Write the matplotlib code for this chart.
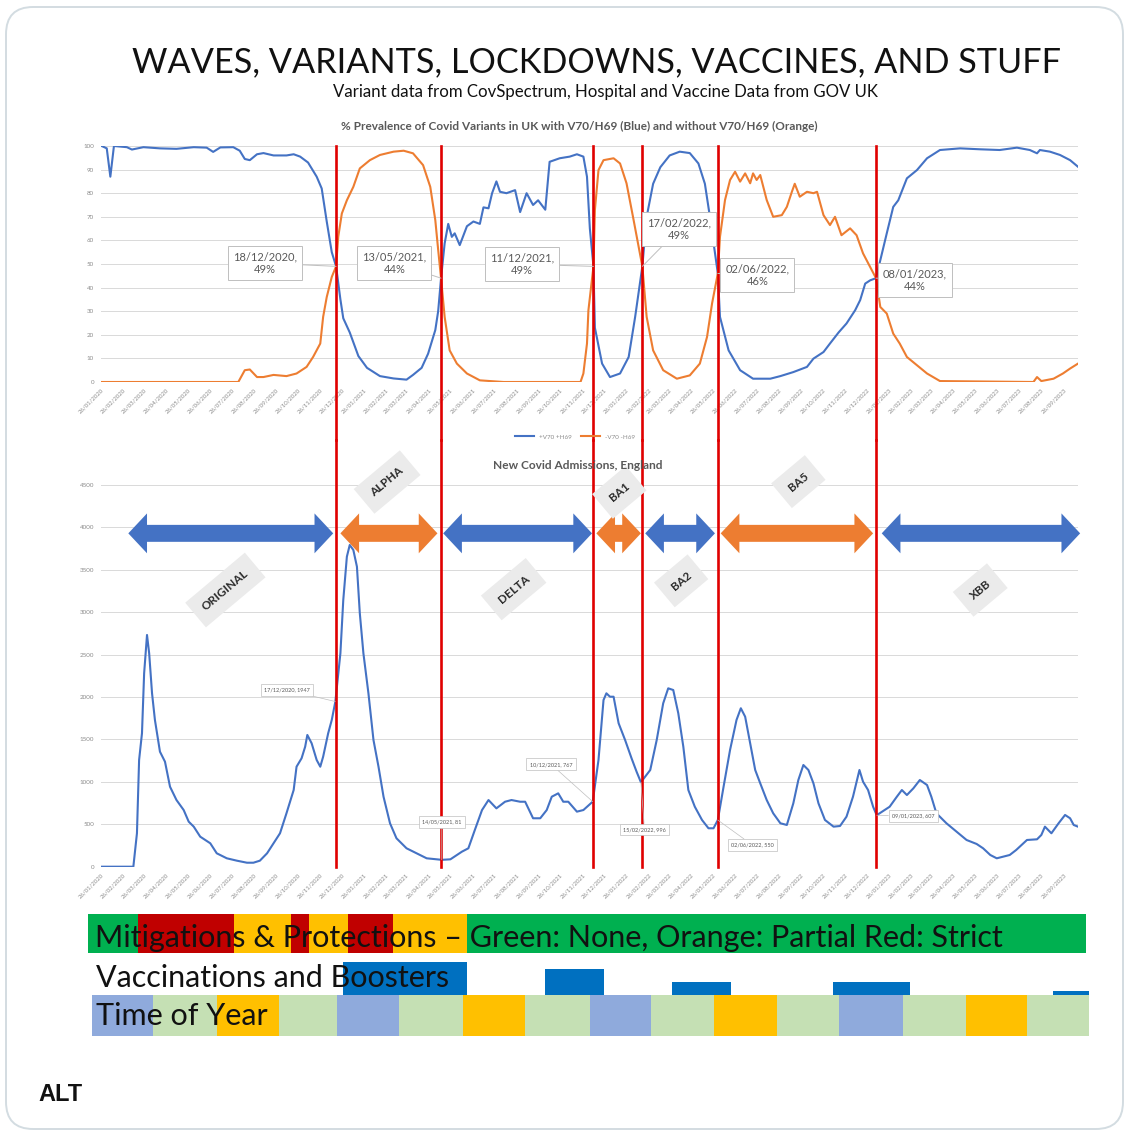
import matplotlib
matplotlib.use("Agg")
import matplotlib.pyplot as plt
import matplotlib.dates as mdates
from matplotlib.patches import FancyBboxPatch, Polygon
import pandas as pd

W, H = 1130, 1134
START = pd.Timestamp("2020-01-26")
END_DAY = 1359

BLUE, ORANGE, RED = "#4472c4", "#ed7d31", "#e00000"
GRID, TICK, TITLE_GRAY = "#d9d9d9", "#8c8c8c", "#595959"
plt.rcParams["font.family"] = ["Lato", "DejaVu Sans"]

# ---------------------------------------------------------------- data
# % prevalence (days since 26/01/2020)
blue_day = [0, 1, 8, 13, 18, 36, 43, 59, 82, 105, 129, 147, 156, 166, 184, 193, 200, 207,
            217, 226, 240, 258, 268, 277, 288, 300, 307, 314, 321, 327, 333, 337, 346, 358,
            370, 388, 407, 425, 434, 446, 455, 465, 469, 473, 478, 483, 488, 492, 499, 509,
            518, 527, 532, 539, 544, 550, 555, 564, 576, 583, 592, 601, 608, 618, 624, 638,
            652, 662, 671, 676, 680, 685, 687, 697, 708, 722, 734, 743, 753, 759, 768, 778,
            791, 805, 819, 831, 840, 847, 858, 861, 873, 889, 907, 931, 945, 963, 982, 991,
            1005, 1014, 1026, 1037, 1049, 1056, 1063, 1070, 1078, 1084, 1093, 1102, 1109,
            1121, 1135, 1149, 1167, 1195, 1223, 1250, 1274, 1292, 1302, 1306, 1320, 1334,
            1348, 1359]
blue_pct = [100, 100, 99, 87, 100, 99.5, 98.5, 99.5, 99, 98.8, 99.5, 99.3, 97.5, 99.4, 99.5,
            98, 94.5, 94, 96.5, 97, 96, 96, 96.5, 95.5, 93, 87, 82, 68, 55, 49, 35, 27, 21,
            11, 6, 2.5, 1.5, 1, 3, 6, 12, 22, 30, 44, 58.7, 67, 61.5, 63, 58, 66, 68, 67, 74,
            73.6, 80, 85, 80.6, 80, 81.3, 72, 80, 75, 77, 73, 93.3, 94.8, 95.5, 96.5, 95.5, 87,
            65, 49, 23, 7.8, 2.1, 3.6, 10.6, 27.6, 49, 70, 84, 91, 96, 97.6, 97, 92.6, 84, 70,
            46, 27.6, 13.4, 5, 1.4, 1.4, 2.5, 4.2, 6.4, 9.9, 12.7, 16.3, 21, 24.8, 30.4, 34.7,
            41.7, 43.1, 44, 51.6, 63, 74.2, 77, 86.3, 89.8, 94.8, 98.3, 99, 98.6, 98.3, 99.3,
            98.3, 96.9, 98.3, 97.6, 96.2, 94, 91.2]
orange_day = [0, 191, 200, 207, 217, 226, 240, 258, 272, 286, 295, 305, 309, 314, 321, 327,
              330, 335, 342, 351, 360, 374, 388, 407, 421, 434, 448, 458, 465, 469, 473, 478,
              485, 495, 509, 527, 560, 667, 671, 676, 678, 685, 687, 692, 699, 713, 722, 731,
              740, 753, 759, 768, 782, 801, 819, 833, 843, 850, 858, 861, 868, 875, 882, 889,
              896, 903, 907, 912, 917, 926, 935, 947, 954, 961, 965, 972, 982, 991, 996, 1005,
              1014, 1021, 1030, 1042, 1051, 1060, 1078, 1084, 1093, 1102, 1111, 1121, 1135,
              1149, 1167, 1297, 1302, 1308, 1325, 1338, 1348, 1359]
orange_pct = [0, 0, 5, 5.3, 2.1, 2.1, 3, 2.5, 3.6, 6.4, 10.6, 16.3, 27.6, 36, 44.5, 49, 61.5,
              71.4, 77, 82.7, 90.5, 94, 96.2, 97.6, 98, 96.9, 91.9, 82.7, 68.6, 56, 44, 27.6,
              13.4, 7.8, 3.6, 0.7, 0, 0, 3.6, 16.3, 30.4, 49, 72.9, 89.8, 94, 94.8, 92.6, 84.2,
              70, 49, 27.6, 13.4, 5, 1.4, 2.8, 7.8, 19.1, 33.3, 46, 61.5, 77.1, 85.6, 89.1, 84.9,
              88.4, 84.2, 88.4, 85.6, 87.7, 77.1, 70, 70.7, 74.2, 80.6, 84, 78.5, 80.6, 80, 80.6,
              70.7, 66.5, 70, 62.2, 65.1, 62.2, 54.5, 44, 31.8, 29, 20.5, 16.3, 10.6, 7.1, 3.6,
              0.4, 0, 2.1, 0.4, 1.4, 3.6, 5.7, 7.8]

# new covid admissions, England (days since 26/01/2020)
adm_day = [0, 45, 47, 50, 53, 57, 60, 64, 67, 71, 75, 82, 89, 96, 105, 115, 122, 129, 138, 152,
           161, 175, 189, 203, 212, 221, 231, 240, 249, 258, 268, 272, 279, 284, 287, 293, 300,
           305, 309, 316, 321, 326, 333, 337, 342, 346, 351, 356, 360, 365, 372, 379, 386, 393,
           402, 411, 425, 439, 453, 467, 474, 486, 495, 502, 511, 520, 530, 539, 550, 562, 571,
           583, 590, 601, 611, 620, 627, 636, 643, 650, 662, 671, 684, 692, 699, 703, 708, 713,
           720, 729, 738, 745, 751, 764, 773, 782, 789, 796, 803, 810, 817, 826, 836, 845, 852,
           858, 866, 875, 884, 890, 896, 903, 910, 917, 926, 935, 945, 954, 963, 970, 977, 984,
           991, 998, 1007, 1019, 1028, 1037, 1046, 1055, 1060, 1067, 1074, 1079, 1097, 1107,
           1114, 1121, 1130, 1139, 1149, 1155, 1162, 1176, 1190, 1204, 1218, 1227, 1237, 1246,
           1255, 1264, 1273, 1288, 1302, 1308, 1313, 1322, 1332, 1341, 1348, 1353, 1359]
adm_val = [0, 0, 158, 394, 1258, 1573, 2280, 2732, 2516, 2044, 1730, 1356, 1238, 943, 786, 668,
           531, 472, 354, 276, 158, 99, 71, 47, 47, 71, 158, 276, 394, 630, 904, 1179, 1278,
           1415, 1553, 1455, 1258, 1179, 1297, 1573, 1730, 1947, 2516, 3144, 3655, 3793, 3734,
           3537, 2988, 2516, 2044, 1494, 1179, 825, 512, 335, 217, 158, 99, 87, 81, 87, 138, 177,
           217, 433, 668, 786, 688, 766, 786, 766, 766, 571, 571, 668, 825, 865, 766, 766, 649,
           668, 767, 1258, 1965, 2044, 2004, 2004, 1691, 1494, 1278, 1120, 996, 1140, 1494, 1926,
           2103, 2083, 1809, 1415, 904, 707, 551, 453, 453, 550, 943, 1376, 1730, 1868, 1769,
           1455, 1140, 983, 786, 630, 512, 492, 747, 1022, 1199, 1140, 983, 747, 551, 472, 480,
           590, 825, 1140, 1002, 904, 707, 607, 707, 825, 904, 845, 924, 1022, 963, 825, 630,
           512, 413, 315, 268, 217, 138, 99, 118, 138, 197, 315, 323, 374, 472, 394, 512, 610,
           571, 492, 472]

# variant changeovers (red lines) and top-chart crossing labels
change_dates = ["2020-12-18", "2021-05-13", "2021-12-11", "2022-02-17", "2022-06-02", "2023-01-08"]
change_pct = [49, 44, 49, 49, 46, 44]
label_dates = ["2020-09-10", "2021-03-09", "2021-09-03", "2022-04-09", "2022-07-27", "2023-03-03"]
label_pct = [50.4, 50.4, 49.9, 64.8, 45.3, 43.2]

# admissions call-outs
adm_note_dates = ["2020-12-17", "2021-05-14", "2021-12-10", "2022-02-15", "2022-06-02", "2023-01-09"]
adm_note_vals = [1947, 81, 767, 996, 550, 607]
adm_box_dates = ["2020-10-11", "2021-05-14", "2021-10-13", "2022-02-20", "2022-07-20", "2023-03-01"]
adm_box_vals = [2083, 528, 1208, 438, 256, 598]

# variant periods (arrows)
variants = ["ORIGINAL", "ALPHA", "DELTA", "BA1", "BA2", "BA5", "XBB"]
var_start = ["2020-03-04", "2020-12-24", "2021-05-16", "2021-12-15", "2022-02-21", "2022-06-06", "2023-01-16"]
var_end = ["2020-12-14", "2021-05-08", "2021-12-09", "2022-02-15", "2022-05-29", "2023-01-04", "2023-10-19"]
var_label_dates = ["2020-07-17", "2021-02-27", "2021-08-22", "2022-01-16", "2022-04-12", "2022-09-22", "2023-06-02"]
var_label_vals = [3262, 4535, 3272, 4414, 3370, 4540, 3262]

# mitigations strip
mit_edges = ["2020-01-08", "2020-03-17", "2020-07-29", "2020-10-16", "2020-11-11",
             "2021-01-03", "2021-03-07", "2021-06-18", "2023-10-27"]
mit_levels = ["none", "strict", "partial", "strict", "partial", "strict", "partial", "none"]
# vaccinations / boosters (relative volume)
vac_start = ["2020-12-28", "2021-10-04", "2022-03-30", "2022-11-09", "2023-09-11"]
vac_end = ["2021-06-18", "2021-12-25", "2022-06-21", "2023-02-24", "2023-10-31"]
vac_level = [1.0, 0.79, 0.39, 0.39, 0.12]
# time of year
season_edges = ["2020-01-14", "2020-04-07", "2020-07-05", "2020-09-30", "2020-12-19",
                "2021-03-15", "2021-06-12", "2021-09-07", "2021-12-06", "2022-03-01",
                "2022-05-28", "2022-08-23", "2022-11-18", "2023-02-14", "2023-05-13",
                "2023-08-06", "2023-10-31"]
seasons = ["winter", "spring", "summer", "autumn"] * 4

MIT_COL = {"none": "#00b050", "partial": "#ffc000", "strict": "#c00000"}
SEASON_COL = {"winter": "#8faadc", "spring": "#c5e0b4", "summer": "#ffc000", "autumn": "#c5e0b4"}


def days(d):
    return START + pd.to_timedelta(d, unit="D")


def num(s):
    return mdates.date2num(pd.Timestamp(s))


def fx(px):
    return px / W


def fy(py):
    return 1 - py / H


fig = plt.figure(figsize=(W / 100, H / 100), dpi=100)
fig.patch.set_facecolor("white")
fig.add_artist(FancyBboxPatch((fx(6), fy(1129)), fx(1123) - fx(6), fy(7) - fy(1129),
                              boxstyle="round,pad=0,rounding_size=0.024",
                              transform=fig.transFigure, fc="none", ec="#d3dce1", lw=1.4))

fig.text(fx(597), fy(72), "WAVES, VARIANTS, LOCKDOWNS, VACCINES, AND STUFF",
         ha="center", va="baseline", fontsize=24.7, color="#111111")
fig.text(fx(605), fy(97), "Variant data from CovSpectrum, Hospital and Vaccine Data from GOV UK",
         ha="center", va="baseline", fontsize=12.1, color="#111111")
fig.text(fx(579), fy(130), "% Prevalence of Covid Variants in UK with V70/H69 (Blue) and without V70/H69 (Orange)",
         ha="center", va="baseline", fontsize=8.5, fontweight="bold", color=TITLE_GRAY)
fig.text(fx(578), fy(469), "New Covid Admissions, England",
         ha="center", va="baseline", fontsize=8.6, fontweight="bold", color=TITLE_GRAY)

left, width = fx(101), fx(1078) - fx(101)
ax1 = fig.add_axes([left, fy(382), width, (382 - 146) / H])
ax2 = fig.add_axes([left, fy(866.7), width, (866.7 - 485) / H])
ax3 = fig.add_axes([left, fy(1040), width, 135 / H])

ticks = pd.date_range("2020-01-26", "2023-09-26", freq=pd.DateOffset(months=1))
tick_labels = [t.strftime("%d/%m/%Y") for t in ticks]

for ax, ymax, step in [(ax1, 100, 10), (ax2, 4500, 500)]:
    ax.set_xlim(START, days(END_DAY))
    ax.set_ylim(0, ymax)
    ax.set_yticks(range(0, ymax + 1, step))
    ax.set_xticks(ticks)
    ax.set_xticklabels(tick_labels, rotation=45, ha="right", va="top",
                       rotation_mode="anchor", fontsize=4.3, color=TICK)
    ax.tick_params(axis="y", labelsize=4.5, labelcolor=TICK, length=0, pad=5)
    ax.tick_params(axis="x", length=0, pad=4)
    ax.grid(axis="y", color=GRID, lw=0.7)
    ax.set_axisbelow(True)
    for s in ax.spines.values():
        s.set_visible(False)

# ---------------------------------------------------------------- top chart
ax1.plot(days(blue_day), blue_pct, color=BLUE, lw=1.5, label="+V70 +H69")
ax1.plot(days(orange_day), orange_pct, color=ORANGE, lw=1.5, label="-V70 -H69")
ax1.legend(loc="center", bbox_to_anchor=(0.485, -0.233), ncol=2, frameon=False,
           fontsize=4.5, labelcolor=TICK, handlelength=3, columnspacing=1.5)
for d, v, ld, lv in zip(change_dates, change_pct, label_dates, label_pct):
    ax1.axvline(pd.Timestamp(d), ymin=-0.246, ymax=1, color=RED, lw=1.9, clip_on=False, zorder=4)
    ax1.annotate(f"{pd.Timestamp(d):%d/%m/%Y},\n{v}%", (pd.Timestamp(d), v),
                 xytext=(pd.Timestamp(ld), lv), ha="center", va="center",
                 fontsize=8, color=TITLE_GRAY, linespacing=1.2, zorder=6,
                 bbox=dict(boxstyle="square,pad=0.45", fc="white", ec="#bfbfbf", lw=0.7),
                 arrowprops=dict(arrowstyle="-", color="#bfbfbf", lw=0.7, shrinkA=0, shrinkB=0))

# ---------------------------------------------------------------- bottom chart
ax2.plot(days(adm_day), adm_val, color=BLUE, lw=1.5)
for d in change_dates:
    ax2.axvline(pd.Timestamp(d), ymin=0, ymax=1.118, color=RED, lw=1.9, clip_on=False, zorder=4)
for d, v, bd, bv in zip(adm_note_dates, adm_note_vals, adm_box_dates, adm_box_vals):
    ax2.annotate(f"{pd.Timestamp(d):%d/%m/%Y}, {v}", (pd.Timestamp(d), v),
                 xytext=(pd.Timestamp(bd), bv), ha="center", va="center",
                 fontsize=4, color=TITLE_GRAY, zorder=6,
                 bbox=dict(boxstyle="square,pad=0.6", fc="white", ec="#bfbfbf", lw=0.5),
                 arrowprops=dict(arrowstyle="-", color="#bfbfbf", lw=0.5, shrinkA=0, shrinkB=0))

yc, body, head, hl = 3930, 100, 235, 26
for i, (name, s, e, ld, lv) in enumerate(zip(variants, var_start, var_end,
                                              var_label_dates, var_label_vals)):
    x0, x1 = num(s), num(e)
    pts = [(x0, yc), (x0 + hl, yc + head), (x0 + hl, yc + body), (x1 - hl, yc + body),
           (x1 - hl, yc + head), (x1, yc), (x1 - hl, yc - head), (x1 - hl, yc - body),
           (x0 + hl, yc - body), (x0 + hl, yc - head)]
    ax2.add_patch(Polygon(pts, closed=True, fc=BLUE if i % 2 == 0 else ORANGE,
                          ec="none", clip_on=False, zorder=5))
    ax2.text(pd.Timestamp(ld), lv, name, rotation=40, ha="center", va="center",
             fontsize=8.5, fontweight="bold", color="#2b2b2b", zorder=5, clip_on=False,
             bbox=dict(boxstyle="square,pad=0.9", fc="#ebebeb", ec="none"))

# ---------------------------------------------------------------- strips
ax3.set_xlim(START, days(END_DAY))
ax3.set_ylim(-4, 131)
ax3.axis("off")
mit = ax3.broken_barh([(num(a), num(b) - num(a)) for a, b in zip(mit_edges[:-1], mit_edges[1:])],
                      (83, 39), facecolors=[MIT_COL[m] for m in mit_levels])
mit.set_clip_on(False)
sea = ax3.broken_barh([(num(a), num(b) - num(a)) for a, b in zip(season_edges[:-1], season_edges[1:])],
                      (0, 41), facecolors=[SEASON_COL[s] for s in seasons])
sea.set_clip_on(False)
vac = ax3.bar([num(s) for s in vac_start], [v * 33 for v in vac_level],
              width=[num(e) - num(s) for s, e in zip(vac_start, vac_end)],
              bottom=41, align="edge", color="#0070c0")
for b in vac:
    b.set_clip_on(False)

fig.text(fx(95), fy(947), "Mitigations & Protections \u2013 Green: None, Orange: Partial Red: Strict",
         ha="left", va="baseline", fontsize=22, color="#111111")
fig.text(fx(96), fy(987), "Vaccinations and Boosters", ha="left", va="baseline",
         fontsize=22, color="#111111")
fig.text(fx(96), fy(1025), "Time of Year", ha="left", va="baseline", fontsize=22, color="#111111")

fig.text(fx(38), fy(1101), "ALT", ha="left", va="baseline", fontsize=17, fontweight="bold",
         family=["Liberation Sans", "DejaVu Sans"], color="#111111")

fig.savefig("out.png", dpi=100, facecolor="white")
